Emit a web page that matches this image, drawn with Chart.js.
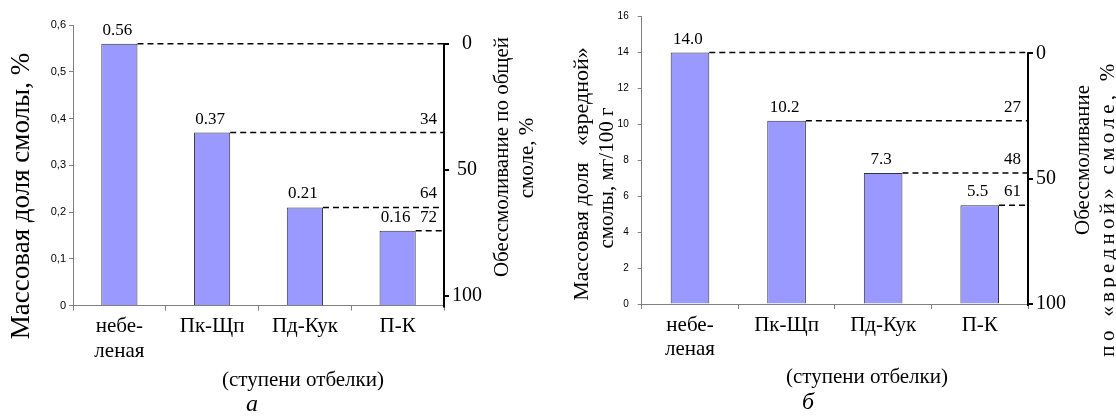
<!DOCTYPE html>
<html><head><meta charset="utf-8">
<script src="https://cdn.jsdelivr.net/npm/chart.js@4.4.1/dist/chart.umd.min.js"></script>
<style>
html,body{margin:0;padding:0;background:#fff;width:1116px;height:417px;overflow:hidden}
.wrap{position:absolute;top:0;width:558px;height:417px}
canvas{display:block}
</style></head><body>
<div class="wrap" style="left:0"><canvas id="cA" width="558" height="417"></canvas></div>
<div class="wrap" style="left:558px"><canvas id="cB" width="558" height="417"></canvas></div>
<script>
// ---- data ----
const stages = [['небе-', 'леная'], 'Пк-Щп', 'Пд-Кук', 'П-К'];
const resinTotal = [0.56, 0.37, 0.21, 0.16];          // массовая доля смолы, %
const removalTotal = [0, 34, 64, 72];                 // обессмоливание по общей смоле, %
const resinHarmful = [14.0, 10.2, 7.3, 5.5];          // «вредная» смола, мг/100 г
const removalHarmful = [0, 27, 48, 61];               // обессмоливание по «вредной» смоле, %
const ticksTotal = [0, 0.1, 0.2, 0.3, 0.4, 0.5, 0.6];
const ticksHarmful = [0, 2, 4, 6, 8, 10, 12, 14, 16];
const ticksRemoval = [0, 50, 100];

const SERIF = '"Liberation Serif", "Times New Roman", serif';
const SANS = '"Liberation Sans", Arial, sans-serif';

function overlay(values, removal, fmt, titles, offX) {
  return {
    id: 'overlay',
    afterDraw(chart) {
      const ctx = chart.ctx, area = chart.chartArea, y2 = chart.scales.y2;
      const meta = chart.getDatasetMeta(0);
      ctx.save();
      ctx.strokeStyle = '#000';
      ctx.lineWidth = 2;
      ctx.beginPath();
      ctx.moveTo(area.right, y2.getPixelForValue(0) - 1);
      ctx.lineTo(area.right, area.bottom + 2);
      ctx.stroke();
      meta.data.forEach((bar, i) => {
        const right = bar.x + bar.width / 2;
        ctx.setLineDash([6, 4]);
        ctx.lineWidth = 1.5;
        ctx.beginPath();
        ctx.moveTo(right, bar.y);
        ctx.lineTo(area.right, bar.y);
        ctx.stroke();
        ctx.setLineDash([]);
        ctx.fillStyle = '#000';
        ctx.font = '17px ' + SERIF;
        ctx.textBaseline = 'alphabetic';
        ctx.textAlign = 'center';
        ctx.fillText(fmt(values[i]), bar.x - 2, bar.y - 9);
        if (removal[i] > 0) {
          ctx.textAlign = 'right';
          ctx.fillText(String(removal[i]), area.right - 7, bar.y - 9);
        }
      });
      titles.forEach(t => {
        ctx.save();
        ctx.translate(t.x - offX, t.y);
        if (t.rot) ctx.rotate(-Math.PI / 2);
        ctx.font = (t.italic ? 'italic ' : '') + t.size + 'px ' + SERIF;
        if (t.spacing && 'letterSpacing' in ctx) ctx.letterSpacing = t.spacing + 'px';
        ctx.textAlign = 'center';
        ctx.textBaseline = 'middle';
        ctx.fillStyle = '#000';
        ctx.fillText(t.text, 0, 0);
        ctx.restore();
      });
      ctx.restore();
    }
  };
}

function build(id, cfg) {
  return new Chart(document.getElementById(id), {
    type: 'bar',
    data: {
      labels: stages,
      datasets: [{
        data: cfg.values,
        yAxisID: 'y',
        backgroundColor: '#9999FF',
        borderColor: '#333333',
        borderWidth: 1,
        categoryPercentage: 1,
        barPercentage: cfg.barPct
      }]
    },
    options: {
      responsive: false,
      animation: false,
      devicePixelRatio: 1,
      layout: { padding: { top: cfg.top, left: 0, right: 0, bottom: 0 } },
      plugins: { legend: { display: false }, tooltip: { enabled: false } },
      scales: {
        x: {
          offset: true,
          grid: { offset: true, drawOnChartArea: false, drawTicks: true, tickLength: 5, color: '#808080', lineWidth: 1 },
          border: { color: '#808080', width: 1 },
          ticks: { font: { family: SERIF, size: 21, lineHeight: 1.16 }, color: '#000', padding: 4, maxRotation: 0, autoSkip: false },
          afterFit: s => { s.height = cfg.xH; }
        },
        y: {
          position: 'left',
          min: 0, max: cfg.yMax,
          afterBuildTicks: s => { s.ticks = cfg.yTicks.map(v => ({ value: v })); },
          grid: { drawOnChartArea: false, drawTicks: true, tickLength: 4, color: '#808080' },
          border: { color: '#808080', width: 1 },
          ticks: { font: { family: SANS, size: cfg.ySize }, color: '#000', padding: cfg.yPad, callback: cfg.yFmt },
          afterFit: s => { s.width = cfg.yW; }
        },
        y2: {
          position: 'right',
          reverse: true,
          min: cfg.y2Min, max: cfg.y2Max,
          afterBuildTicks: s => { s.ticks = ticksRemoval.map(v => ({ value: v })); },
          grid: { drawOnChartArea: false, drawTicks: true, tickLength: 5, color: '#000', lineWidth: 2 },
          border: { display: false },
          ticks: { font: { family: SERIF, size: 20 }, color: '#000', padding: 3, crossAlign: cfg.y2Align },
          afterFit: s => { s.width = cfg.y2W; }
        }
      }
    },
    plugins: [overlay(cfg.values, cfg.removal, cfg.fmt, cfg.titles, cfg.offX)]
  });
}

build('cA', {
  values: resinTotal, removal: removalTotal, barPct: 0.39,
  fmt: v => v.toFixed(2),
  top: 25, xH: 111.4, yW: 73, y2W: 114, yPad: 3, ySize: 11,
  yMax: 0.6, yTicks: ticksTotal,
  yFmt: v => v === 0 ? '0' : String(v).replace('.', ','),
  y2Min: -7.54, y2Max: 103.8, y2Align: 'center',
  offX: 0,
  titles: [
    { text: 'Массовая доля смолы, %', x: 22, y: 196, size: 27, rot: true },
    { text: 'Обессмоливание по общей', x: 502, y: 157, size: 21, rot: true },
    { text: 'смоле, %', x: 527, y: 158, size: 21, rot: true },
    { text: '(ступени отбелки)', x: 303, y: 380, size: 21 },
    { text: 'а', x: 252, y: 405, size: 24, italic: true }
  ]
});

build('cB', {
  values: resinHarmful, removal: removalHarmful, barPct: 0.40,
  fmt: v => v.toFixed(1),
  top: 16.7, xH: 113, yW: 83.7, y2W: 88, yPad: 9, ySize: 10,
  yMax: 16, yTicks: ticksHarmful,
  yFmt: v => String(v),
  y2Min: -14.6, y2Max: 100, y2Align: 'near',
  offX: 558,
  titles: [
    { text: 'Массовая доля   «вредной»', x: 582, y: 174, size: 22, rot: true },
    { text: 'смолы, мг/100 г', x: 607, y: 178, size: 21, rot: true },
    { text: 'Обессмоливание', x: 1083, y: 160, size: 21, rot: true },
    { text: 'по «вредной» смоле, %', x: 1108, y: 208, size: 21, rot: true, spacing: 4.3 },
    { text: '(ступени отбелки)', x: 867, y: 377, size: 21 },
    { text: 'б', x: 808, y: 403, size: 24, italic: true }
  ]
});
</script>
</body></html>
